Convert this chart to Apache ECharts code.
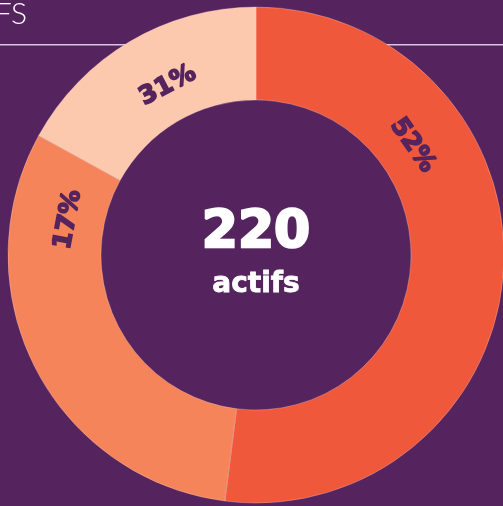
<!DOCTYPE html>
<html><head><meta charset="utf-8">
<script src="https://cdn.jsdelivr.net/npm/echarts@6/dist/echarts.min.js"></script>
<style>html,body{margin:0;padding:0;background:#55245e;}#c{width:503px;height:506px;}</style>
</head><body><div id="c"></div>
<script>
const categories = ['A', 'B', 'C'];
const values = [52, 31, 17];
const labelTexts = ['52%', '17%', '31%'];
const centerValue = '220';
const centerLabel = 'actifs';
const titleText = 'ACTIFS';

const colors = ['#f0583c', '#f5845a', '#fcc8ae'];
const labelAngles = [55, 280.7, 332.5]; // degrees clockwise from top
const cx = 256, cy = 255, rIn = 155, rOut = 248, rLab = 191;

const chart = echarts.init(document.getElementById('c'), null, {renderer: 'canvas'});
const labelGraphics = labelTexts.map((t, i) => {
  const a = labelAngles[i] * Math.PI / 180;
  return {
    type: 'text', z: 10,
    x: cx + rLab * Math.sin(a), y: cy - rLab * Math.cos(a),
    rotation: -a,
    style: {text: t, fill: '#55245e', stroke: '#55245e', lineWidth: 1.6, font: 'bold 25px "DejaVu Sans"', align: 'center', verticalAlign: 'middle'}
  };
});
chart.setOption({
  backgroundColor: '#55245e',
  animation: false,
  series: [{
    type: 'pie', center: [cx, cy], radius: [rIn, rOut], startAngle: 90, clockwise: true,
    label: {show: false}, labelLine: {show: false}, silent: true, z: 2,
    itemStyle: {borderColor: 'rgba(255,220,210,0.5)', borderWidth: 0.6},
    data: categories.map((c, i) => ({name: c, value: values[i], itemStyle: {color: colors[i]}}))
  }],
  graphic: [
    {type: 'rect', z: 0, shape: {x: 0, y: 44, width: 503, height: 1.5}, style: {fill: '#dcc4dc'}},
    {type: 'text', z: 0, x: 27, y: 14, style: {text: titleText, fill: '#ffffff', font: '300 30px Lato', align: 'right', verticalAlign: 'middle'}},
    {type: 'text', z: 10, x: cx, y: 233, style: {text: centerValue, fill: '#ffffff', stroke: '#ffffff', lineWidth: 2.4, font: 'bold 52px "DejaVu Sans"', align: 'center', verticalAlign: 'middle'}},
    {type: 'text', z: 10, x: cx, y: 285, style: {text: centerLabel, fill: '#ffffff', stroke: '#ffffff', lineWidth: 0.8, font: 'bold 28px "DejaVu Sans"', align: 'center', verticalAlign: 'middle'}}
  ].concat(labelGraphics)
});
</script></body></html>
